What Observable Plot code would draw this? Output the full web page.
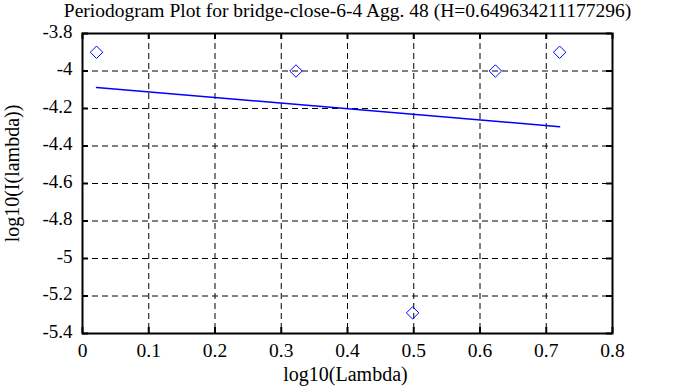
<!DOCTYPE html>
<html><head><meta charset="utf-8">
<script src="https://cdn.jsdelivr.net/npm/d3@7"></script>
<script src="https://cdn.jsdelivr.net/npm/@observablehq/plot@0.6"></script>
<style>
body{margin:0;background:#fff}
#chart svg, #chart svg text { font-family: "Liberation Serif", "DejaVu Serif", serif !important; }
</style>
</head><body><div id="chart"></div>
<script>
const title = "Periodogram Plot for bridge-close-6-4 Agg. 48 (H=0.649634211177296)";
const xLabel = "log10(Lambda)";
const yLabel = "log10(I(lambda))";
const logLambda = [0.0212, 0.3222, 0.4983, 0.6232, 0.7202];
const logI = [-3.90, -4.00, -5.29, -4.00, -3.90];
const fitX = [0.0212, 0.7202];
const fitY = [-4.088, -4.297];
const xTicks = [0, 0.1, 0.2, 0.3, 0.4, 0.5, 0.6, 0.7, 0.8];
const yTicks = [-3.8, -4, -4.2, -4.4, -4.6, -4.8, -5, -5.2, -5.4];

const points = logLambda.map((x, i) => ({x, y: logI[i]}));
const fit = fitX.map((x, i) => ({x, y: fitY[i]}));

const W = 688, H = 387, mL = 82, mR = 76, mT = 33, mB = 54;
const fw = W - mL - mR, fh = H - mT - mB, tl = 6;
const ff = "Liberation Serif";

const chart = Plot.plot({
  width: W, height: H,
  marginLeft: mL, marginRight: mR, marginTop: mT, marginBottom: mB,
  style: {fontFamily: ff, fontSize: "19px", background: "#fff", color: "#000", overflow: "visible"},
  x: {domain: [0, 0.8], nice: false},
  y: {domain: [-5.4, -3.8], nice: false},
  marks: [
    Plot.gridX(xTicks, {stroke: "#000", strokeOpacity: 1, strokeDasharray: "6,4"}),
    Plot.gridY(yTicks, {stroke: "#000", strokeOpacity: 1, strokeDasharray: "6,4"}),
    Plot.tickX(xTicks, {x: d => d, insetTop: fh - tl, stroke: "#000", strokeWidth: 2}),
    Plot.tickX(xTicks, {x: d => d, insetBottom: fh - tl, stroke: "#000", strokeWidth: 2}),
    Plot.tickY(yTicks, {y: d => d, insetRight: fw - tl, stroke: "#000", strokeWidth: 2}),
    Plot.tickY(yTicks, {y: d => d, insetLeft: fw - tl, stroke: "#000", strokeWidth: 2}),
    Plot.frame({stroke: "#000", strokeWidth: 2}),
    Plot.axisX(xTicks, {tickSize: 0, tickPadding: 10, tickFormat: d => String(d), label: null, fontSize: 19.5, fontFamily: ff}),
    Plot.axisY(yTicks, {tickSize: 0, tickPadding: 10, dy: -2, tickFormat: d => String(d), label: null, fontSize: 19, fontFamily: ff}),
    Plot.line(fit, {x: "x", y: "y", stroke: "#0000ff", strokeWidth: 1.5}),
    Plot.dot(points, {x: "x", y: "y", symbol: "diamond2", r: 5.6, stroke: "#0000ff", strokeWidth: 1, fill: "none"}),
    Plot.text([title], {text: d => d, frameAnchor: "top", dy: -30, fontSize: 19.5, fontFamily: ff}),
    Plot.text([xLabel], {text: d => d, frameAnchor: "bottom", dy: 47, dx: -2, fontSize: 20, fontFamily: ff}),
    Plot.text([yLabel], {text: d => d, frameAnchor: "left", textAnchor: "middle", rotate: -90, dx: -70, dy: -10, fontSize: 20, fontFamily: ff})
  ]
});
document.getElementById("chart").append(chart);
</script>
</body></html>
